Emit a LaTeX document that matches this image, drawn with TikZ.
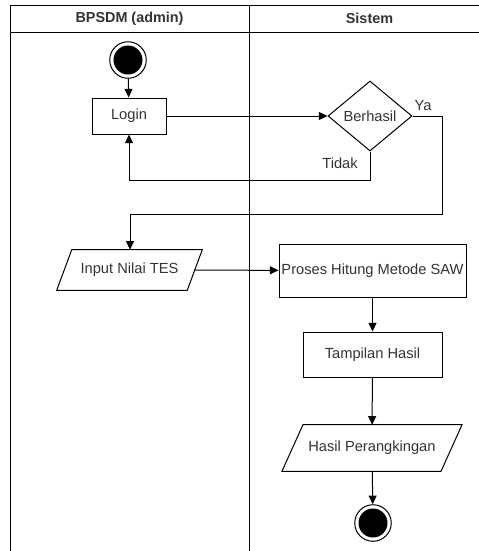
\documentclass[tikz,border=0pt]{standalone}
\usepackage{fontspec}
\setmainfont{Liberation Sans}
\usetikzlibrary{arrows.meta,shapes.geometric}
\definecolor{txt}{HTML}{333333}
\begin{document}
\begin{tikzpicture}[x=0.75pt,y=-0.75pt,
  font=\fontsize{11}{13}\selectfont,
  line/.style={draw=black,line width=0.75pt},
  flow/.style={line,-{Triangle[length=6.5pt,width=6pt]}},
  hdr/.style={font=\fontsize{10.8}{13}\selectfont\bfseries,text=txt},
  lbl/.style={text=txt},
  actbox/.style={line,rectangle,fill=white,text=txt,inner sep=0pt},
  iotext/.style={rectangle,text=txt,inner sep=0pt},
  decbox/.style={line,diamond,fill=white,text=txt,inner sep=0pt},
  outring/.style={line,circle,fill=white,minimum size=27.4pt,inner sep=0pt},
  dot/.style={circle,fill=black,minimum size=21.75pt,inner sep=0pt}]
\useasboundingbox (0,0) rectangle (479,551);
\begin{scope}
\clip (0,0) rectangle (479,551);
\draw[line] (10,5) rectangle (488,570);
\draw[line] (10,32) -- (488,32);
\draw[line] (249,5) -- (249,570);
\end{scope}
\node[hdr] (h1) at (129.5,18.5) {BPSDM (admin)};
\node[hdr] (h2) at (369.5,18.5) {Sistem};

\node[outring] (start) at (128,60) {};
\node[dot] (startdot) at (start.center) {};

\node[actbox,minimum width=55.5pt,minimum height=27pt] (login) at (129,116) {Login};
\node[decbox,minimum width=63pt,minimum height=52.5pt,aspect=1.2] (dec) at (370,116) {Berhasil};
\node[iotext,minimum width=97.5pt,minimum height=30pt] (input) at (129.5,270) {Input Nilai TES};
\draw[line] ([xshift=5.625pt]input.north west) -- ([xshift=5.625pt]input.north east)
  -- ([xshift=-5.625pt]input.south east) -- ([xshift=-5.625pt]input.south west) -- cycle;
\node[actbox,minimum width=140.25pt,minimum height=39.75pt] (proses) at (372.5,270.5) {Proses Hitung Metode SAW};
\node[actbox,minimum width=104.25pt,minimum height=33.75pt] (tampil) at (372.5,354.5) {Tampilan Hasil};
\node[iotext,minimum width=118.9pt,minimum height=34.5pt] (hasil) at (372,448) {Hasil Perangkingan};
\draw[line] ([xshift=7.875pt]hasil.north west) -- ([xshift=7.875pt]hasil.north east)
  -- ([xshift=-7.875pt]hasil.south east) -- ([xshift=-7.875pt]hasil.south west) -- cycle;

\node[outring] (end) at (373,523) {};
\node[dot] (enddot) at (end.center) {};

\node[lbl] (ya) at (423,106) {Ya};
\node[lbl] (tidak) at (340,163) {Tidak};

\coordinate (ya1) at (442,116);
\coordinate (ya2) at (442,214);
\coordinate (ya3) at (130,214);
\coordinate (td1) at (370,180);
\coordinate (td2) at (129,180);

\draw[flow] (start) -- (login);
\draw[flow] (login) -- (dec);
\draw[flow] (dec.south) -- (td1) -- (td2) -- (login.south);
\draw[flow] (dec.east) -- (ya1) -- (ya2) -- (ya3) -- (input.north -| ya3);
\draw[flow] (input) -- (proses);
\draw[flow] (proses) -- (tampil);
\draw[flow] (tampil) -- (hasil);
\draw[flow] (hasil) -- (end);
\end{tikzpicture}
\end{document}
